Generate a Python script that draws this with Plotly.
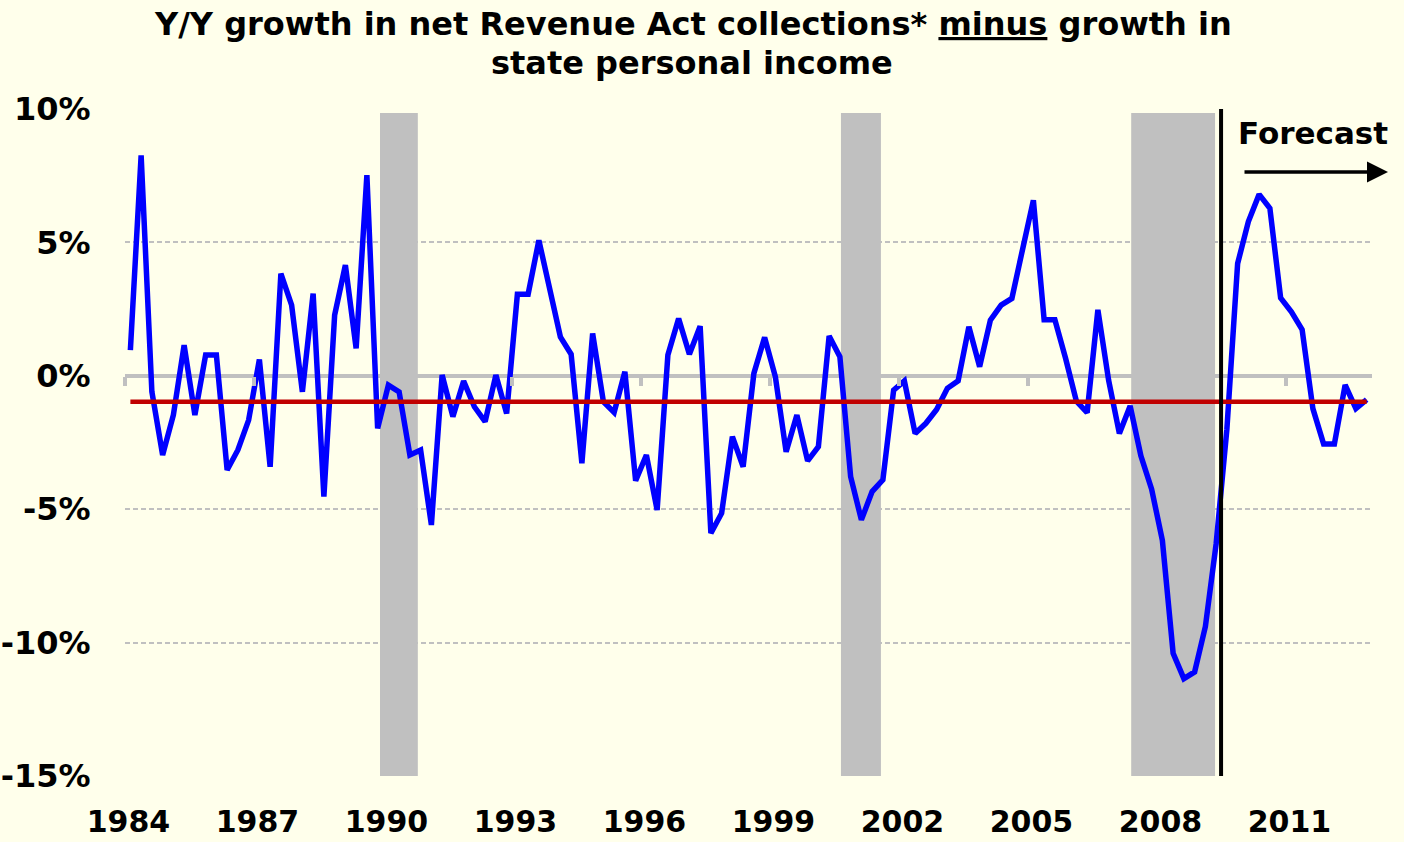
import plotly.graph_objects as go

# ---- data ----
start_year = 1984
n_quarters = 116
quarter_labels = [f"{start_year + i // 4}Q{i % 4 + 1}" for i in range(n_quarters)]

revenue_minus_income = [
    0.96, 8.26, -0.60, -2.97, -1.47, 1.15, -1.47, 0.78, 0.78, -3.53,
    -2.78, -1.66, 0.61, -3.41, 3.83, 2.65, -0.60, 3.08, -4.53, 2.27,
    4.15, 1.03, 7.52, -1.97, -0.35, -0.60, -2.97, -2.78, -5.59, 0.03,
    -1.53, -0.20, -1.16, -1.72, 0.03, -1.41, 3.06, 3.06, 5.08, 3.25,
    1.46, 0.81, -3.28, 1.59, -0.97, -1.37, 0.15, -3.93, -2.97, -5.03,
    0.78, 2.15, 0.81, 1.86, -5.90, -5.15, -2.28, -3.41, 0.09, 1.44,
    -0.04, -2.85, -1.47, -3.19, -2.66, 1.49, 0.71, -3.78, -5.40, -4.34,
    -3.90, -0.54, -0.19, -2.16, -1.78, -1.26, -0.47, -0.19, 1.84, 0.34,
    2.09, 2.65, 2.90, 4.75, 6.58, 2.10, 2.10, 0.65, -0.95, -1.38,
    2.47, -0.17, -2.16, -1.13, -3.00, -4.25, -6.17, -10.40, -11.35, -11.10,
    -9.40, -6.30, -2.00, 4.21, 5.78, 6.80, 6.28, 2.92, 2.40, 1.73,
    -1.23, -2.56, -2.56, -0.34, -1.23, -0.89,
]
average_level = -0.97

recession_start = [1989.93, 2000.65, 2007.40]
recession_end = [1990.81, 2001.58, 2009.35]
recession_top = 9.85
forecast_start = 2009.49

x_tick_years = [1984, 1987, 1990, 1993, 1996, 1999, 2002, 2005, 2008, 2011]
y_tick_vals = [-15, -10, -5, 0, 5, 10]
y_tick_text = ["-15%", "-10%", "-5%", "0%", "5%", "10%"]

title_line1 = "Y/Y growth in net Revenue Act collections* <u>minus</u> growth in"
title_line2 = "state personal income"

# decimal-year position of each quarter (center of quarter)
x_pos = [int(q[:4]) + (int(q[-1]) - 0.5) / 4 for q in quarter_labels]

BG = "rgb(255,255,235)"
GRAY = "#C0C0C0"
FONT = "DejaVu Sans"

fig = go.Figure()

fig.add_trace(go.Scatter(
    x=x_pos, y=revenue_minus_income, mode="lines",
    line=dict(color="#0000FF", width=5.5), showlegend=False,
))
fig.add_trace(go.Scatter(
    x=x_pos, y=[average_level] * len(x_pos), mode="lines",
    line=dict(color="#C00000", width=4.5), showlegend=False,
))
# invisible trace for the zero-crossing tick axis
fig.add_trace(go.Scatter(
    x=[x_pos[0]], y=[0], xaxis="x2", mode="markers",
    marker=dict(opacity=0), showlegend=False, hoverinfo="skip",
))

for s, e in zip(recession_start, recession_end):
    fig.add_shape(type="rect", xref="x", yref="y", x0=s, x1=e,
                  y0=-15, y1=recession_top, fillcolor=GRAY,
                  line=dict(width=0), layer="between")

fig.add_shape(type="line", xref="x", yref="y", x0=forecast_start,
              x1=forecast_start, y0=-15, y1=10.3,
              line=dict(color="black", width=4), layer="above")

# title lines
fig.add_annotation(text=f"<b>{title_line1}</b>", xref="paper", yref="paper",
                   x=(693 - 125) / 1247, y=(776 - 24) / 667,
                   xanchor="center", yanchor="middle", showarrow=False,
                   font=dict(family=FONT, size=32, color="black"))
fig.add_annotation(text=f"<b>{title_line2}</b>", xref="paper", yref="paper",
                   x=(692 - 125) / 1247, y=(776 - 63) / 667,
                   xanchor="center", yanchor="middle", showarrow=False,
                   font=dict(family=FONT, size=32, color="black"))

fig.add_annotation(text="<b>Forecast</b>", xref="paper", yref="paper",
                   x=(1313 - 125) / 1247, y=(776 - 133) / 667, showarrow=False,
                   xanchor="center", yanchor="middle",
                   font=dict(family=FONT, size=31, color="black"))
fig.add_annotation(text="", xref="paper", yref="paper",
                   x=(1388 - 125) / 1247, y=(776 - 172) / 667, ax=-145, ay=0,
                   showarrow=True, arrowhead=2, arrowsize=1.2,
                   arrowwidth=3.5, arrowcolor="black")

fig.update_layout(
    width=1404, height=842,
    paper_bgcolor=BG, plot_bgcolor=BG,
    margin=dict(l=125, r=32, t=109, b=66),
    xaxis=dict(
        range=[1984, 2013], tickmode="array",
        tickvals=[y + 0.08 for y in x_tick_years],
        ticktext=[str(y) for y in x_tick_years],
        showgrid=False, zeroline=False, showline=False, automargin=False,
        ticks="outside", ticklen=19, tickcolor="rgba(0,0,0,0)",
        tickfont=dict(family=FONT, size=30, color="black", weight="bold"),
    ),
    xaxis2=dict(
        overlaying="x", anchor="free", position=0.6, side="bottom",
        range=[1984, 2013], tickmode="array", tickvals=x_tick_years,
        showticklabels=False, showgrid=False, zeroline=False, showline=False,
        automargin=False,
        ticks="outside", ticklen=9, tickwidth=4, tickcolor=GRAY,
    ),
    yaxis=dict(
        range=[-15, 10], tickmode="array", tickvals=y_tick_vals,
        ticktext=y_tick_text, automargin=False,
        showgrid=True, gridcolor=GRAY, gridwidth=1.5, griddash="5px,3px",
        zeroline=True, zerolinecolor=GRAY, zerolinewidth=4,
        showline=False,
        ticks="outside", ticklen=27, tickcolor="rgba(0,0,0,0)",
        tickfont=dict(family=FONT, size=32, color="black", weight="bold"),
    ),
)

fig.write_html("out.html",
               config={"displayModeBar": False},
               post_script="document.body.style.margin='0px';"
                           "document.body.style.background='" + BG + "';")
